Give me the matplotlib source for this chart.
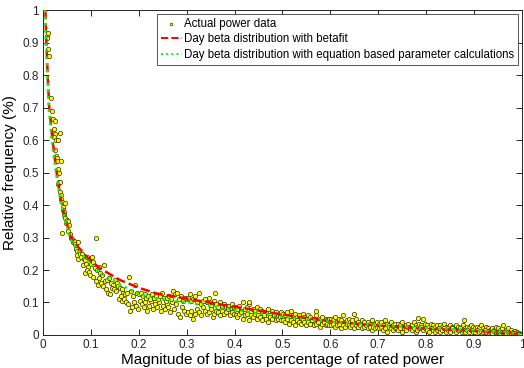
import matplotlib
matplotlib.use("Agg")
import matplotlib.pyplot as plt
import numpy as np

plt.rcParams['font.family'] = ['Liberation Sans', 'DejaVu Sans']

# ---- scatter: steep part + knee (x, y) ----
head_x = [0.008,0.010,0.009,0.011,0.012,0.016,0.019,0.021,0.026,0.022,0.025,0.036,0.024,0.028,
          0.031,0.026,0.028,0.030,0.029,0.037,0.031,0.033,0.034,0.031,0.036,0.035,0.037,0.038,0.040,0.046,0.042,0.041,0.044,0.043,
          0.047,0.050,0.048,0.052,0.055,0.040,0.053,0.056,0.058,0.060,0.062,0.064,0.066,0.070,0.074,0.068,0.072,0.076,0.071,0.078,
          0.082,0.074,0.080,0.085,0.088,0.092,0.096,0.102,0.084,0.090,0.095,0.100,0.104,0.110,0.088,0.092,0.097,0.099,0.105,0.108,
          0.112,0.116,0.128,0.120,0.124,0.118,0.110,0.114,0.122,0.126,0.130,0.134,0.138,0.142,0.146,0.150,0.154,0.132,0.136,0.140,
          0.144,0.148,0.152,0.156,0.160,0.164,0.168,0.172,0.176,0.180,0.184,0.188,0.192,0.196,0.200,0.158,0.162,0.166,0.170,0.174,
          0.178,0.182,0.186,0.190,0.194,0.198,0.202,0.206,0.210,0.214,0.218,0.222,0.226,0.230,0.234,0.238,0.242,0.246,0.250,0.254,
          0.258,0.262,0.266,0.270,0.274,0.278,0.282,0.286,0.290,0.294,0.298,0.204,0.208,0.212,0.216,0.220,0.224,0.228,0.232,0.236,
          0.240,0.244,0.248,0.252,0.256,0.260,0.264,0.268,0.272,0.276,0.280,0.284,0.288,0.292,0.296,0.300]
head_y = [0.92,0.93,0.915,0.88,0.86,0.73,0.69,0.665,0.66,0.635,0.62,0.622,0.61,0.60,
          0.60,0.57,0.55,0.545,0.535,0.535,0.51,0.50,0.47,0.465,0.47,0.44,0.43,0.42,0.41,0.405,0.395,0.385,0.38,0.37,
          0.36,0.355,0.345,0.35,0.34,0.315,0.32,0.31,0.30,0.295,0.285,0.29,0.28,0.275,0.285,0.265,0.26,0.255,0.245,0.25,
          0.25,0.235,0.24,0.235,0.23,0.24,0.235,0.24,0.215,0.22,0.21,0.22,0.225,0.30,0.19,0.20,0.195,0.185,0.18,0.205,
          0.20,0.21,0.215,0.19,0.185,0.175,0.165,0.155,0.16,0.15,0.165,0.17,0.175,0.16,0.155,0.17,0.16,0.14,0.13,0.125,
          0.145,0.14,0.135,0.15,0.145,0.14,0.13,0.125,0.13,0.18,0.135,0.12,0.155,0.13,0.125,0.11,0.12,0.105,0.11,0.10,
          0.095,0.075,0.085,0.10,0.09,0.08,0.105,0.095,0.085,0.10,0.075,0.09,0.105,0.08,0.095,0.085,0.10,0.075,0.09,0.08,
          0.095,0.085,0.07,0.10,0.08,0.095,0.065,0.055,0.085,0.075,0.065,0.13,0.12,0.125,0.115,0.12,0.11,0.125,0.115,0.12,
          0.11,0.12,0.13,0.115,0.105,0.115,0.12,0.11,0.135,0.125,0.13,0.11,0.12,0.105,0.115,0.11]

# ---- scatter: tail (two bands per bin) ----
tail_x = [0.302,0.306,0.310,0.314,0.318,0.322,0.326,0.330,0.334,0.338,0.342,0.346,0.350,0.354,0.358,0.362,0.366,0.370,0.374,0.378,0.382,0.386,0.390,0.394,0.398,
          0.402,0.406,0.410,0.414,0.418,0.422,0.426,0.430,0.434,0.438,0.442,0.446,0.450,0.454,0.458,0.462,0.466,0.470,0.474,0.478,0.482,0.486,0.490,0.494,0.498,
          0.502,0.506,0.510,0.514,0.518,0.522,0.526,0.530,0.534,0.538,0.542,0.546,0.550,0.554,0.558,0.562,0.566,0.570,0.574,0.578,0.582,0.586,0.590,0.594,0.598,
          0.602,0.606,0.610,0.614,0.618,0.622,0.626,0.630,0.634,0.638,0.642,0.646,0.650,0.654,0.658,0.662,0.666,0.670,0.674,0.678,0.682,0.686,0.690,0.694,0.698,
          0.702,0.706,0.710,0.714,0.718,0.722,0.726,0.730,0.734,0.738,0.742,0.746,0.750,0.754,0.758,0.762,0.766,0.770,0.774,0.778,0.782,0.786,0.790,0.794,0.798,
          0.802,0.806,0.810,0.814,0.818,0.822,0.826,0.830,0.834,0.838,0.842,0.846,0.850,0.854,0.858,0.862,0.866,0.870,0.874,0.878,0.882,0.886,0.890,0.894,0.898,
          0.902,0.906,0.910,0.914,0.918,0.922,0.926,0.930,0.934,0.938,0.942,0.946,0.950,0.954,0.958,0.962,0.966,0.970,0.974,0.978,0.982,0.986,0.990,0.994,0.998]
tail_y_upper = [0.115,0.125,0.105,0.11,0.12,0.10,0.13,0.095,0.105,0.11,0.10,0.115,0.09,0.10,0.105,0.095,0.085,0.10,0.09,0.095,0.085,0.09,0.08,0.095,0.085,
                0.085,0.08,0.09,0.075,0.10,0.08,0.085,0.095,0.07,0.08,0.075,0.085,0.07,0.08,0.075,0.065,0.07,0.08,0.06,0.075,0.065,0.07,0.06,0.065,0.07,
                0.065,0.06,0.07,0.055,0.075,0.06,0.065,0.055,0.06,0.05,0.065,0.055,0.05,0.06,0.055,0.045,0.05,0.06,0.045,0.05,0.055,0.04,0.05,0.045,0.05,
                0.05,0.045,0.055,0.04,0.05,0.045,0.06,0.04,0.045,0.05,0.04,0.045,0.035,0.05,0.04,0.035,0.045,0.04,0.03,0.04,0.035,0.045,0.03,0.035,0.04,
                0.035,0.04,0.03,0.045,0.035,0.03,0.04,0.03,0.035,0.025,0.035,0.03,0.04,0.025,0.03,0.035,0.025,0.03,0.04,0.03,0.025,0.035,0.03,0.05,0.035,
                0.03,0.025,0.035,0.03,0.025,0.03,0.02,0.03,0.025,0.035,0.025,0.02,0.03,0.025,0.02,0.03,0.025,0.02,0.025,0.03,0.02,0.025,0.02,0.03,0.025,
                0.02,0.025,0.02,0.03,0.02,0.015,0.025,0.02,0.015,0.02,0.015,0.025,0.02,0.015,0.02,0.01,0.015,0.02,0.01,0.015,0.01,0.012,0.008,0.006,0.004]
tail_y_lower = [0.07,0.06,0.075,0.05,0.065,0.08,0.07,0.06,0.085,0.075,0.065,0.07,0.08,0.055,0.065,0.075,0.07,0.06,0.075,0.065,0.07,0.08,0.06,0.07,0.065,
                0.06,0.055,0.065,0.07,0.05,0.06,0.065,0.045,0.06,0.055,0.065,0.05,0.06,0.055,0.045,0.06,0.05,0.04,0.055,0.05,0.06,0.045,0.05,0.055,0.045,
                0.045,0.04,0.05,0.035,0.045,0.04,0.03,0.045,0.04,0.035,0.045,0.04,0.03,0.04,0.035,0.045,0.03,0.035,0.04,0.025,0.035,0.04,0.03,0.035,0.03,
                0.03,0.035,0.025,0.03,0.035,0.02,0.03,0.025,0.035,0.03,0.025,0.03,0.02,0.03,0.025,0.03,0.02,0.025,0.03,0.02,0.025,0.015,0.025,0.02,0.025,
                0.02,0.025,0.015,0.02,0.01,0.025,0.02,0.015,0.02,0.025,0.015,0.02,0.01,0.02,0.015,0.025,0.02,0.015,0.02,0.01,0.015,0.02,0.025,0.015,0.02,
                0.015,0.01,0.02,0.015,0.01,0.015,0.02,0.01,0.015,0.02,0.01,0.015,0.01,0.02,0.015,0.01,0.015,0.02,0.01,0.015,0.01,0.015,0.01,0.015,0.01,
                0.01,0.015,0.008,0.012,0.01,0.015,0.008,0.012,0.01,0.006,0.012,0.008,0.01,0.006,0.01,0.008,0.005,0.008,0.006,0.005,0.004,0.006,0.003,0.002,0.001]
outlier_x = [0.43, 0.57, 0.783, 0.88, 0.96, 0.36, 0.65]
outlier_y = [0.10, 0.075, 0.052, 0.045, 0.03, 0.13, 0.065]

# ---- fitted curves ----
red_x = [0.005,0.007,0.0098,0.013,0.02,0.0285,0.039,0.058,0.074,0.095,0.119,0.161,0.2025,0.237,0.3,0.35,0.4,0.45,0.5,0.55,
         0.6,0.65,0.7,0.75,0.8,0.85,0.9,0.95,0.98,0.999]
red_y = [1.0,0.9,0.8,0.7,0.6,0.5,0.4,0.3,0.27,0.235,0.205,0.169,0.144,0.128,0.112,0.099,0.087,0.075,0.063,0.052,
         0.042,0.035,0.029,0.024,0.02,0.016,0.013,0.008,0.005,0.0]
green_x = [0.004,0.006,0.0088,0.012,0.018,0.027,0.038,0.057,0.074,0.095,0.119,0.161,0.2025,0.237,0.3,0.35,0.4,0.45,0.5,0.55,
           0.6,0.65,0.7,0.75,0.8,0.85,0.9,0.95,0.98,0.999]
green_y = [1.0,0.9,0.8,0.7,0.6,0.5,0.4,0.295,0.26,0.225,0.19,0.155,0.125,0.113,0.1,0.088,0.077,0.066,0.056,0.048,
           0.041,0.035,0.03,0.026,0.022,0.018,0.015,0.01,0.006,0.0]

labels = ["Actual power data", "Day beta distribution with betafit",
          "Day beta distribution with equation based parameter calculations"]

fig = plt.figure(figsize=(5.24, 3.68), dpi=100)
ax = fig.add_axes([0.082, 0.0897, 0.914, 0.883])

sx = head_x + tail_x + tail_x + outlier_x
sy = head_y + tail_y_upper + tail_y_lower + outlier_y
ax.scatter(sx, sy, s=10, c='#ffff00', edgecolors='#333300', linewidths=0.5, zorder=2, label=labels[0])
ax.plot(red_x, red_y, '--', color='#ff0000', lw=1.8, zorder=3, label=labels[1])
ax.plot(green_x, green_y, ':', color='#00ff00', lw=1.8, zorder=4, label=labels[2])

ax.set_xlim(0, 1)
ax.set_ylim(0, 1)
ax.set_xticks(np.arange(0, 1.01, 0.1))
ax.set_yticks(np.arange(0, 1.01, 0.1))
ax.set_xticklabels(['0', '0.1', '0.2', '0.3', '0.4', '0.5', '0.6', '0.7', '0.8', '0.9', '1'])
ax.set_yticklabels(['0', '0.1', '0.2', '0.3', '0.4', '0.5', '0.6', '0.7', '0.8', '0.9', '1'])
ax.tick_params(direction='in', top=True, right=True, length=4, width=0.7, labelsize=8.5, pad=3, colors='#262626')
for sp in ax.spines.values():
    sp.set_color('#262626')
    sp.set_linewidth(0.7)

ax.set_xlabel("Magnitude of bias as percentage of rated power", fontsize=11, labelpad=1)
ax.set_ylabel("Relative frequency (%)", fontsize=11, labelpad=4)

leg = ax.legend(loc='upper right', fontsize=8.3, frameon=True, fancybox=False, edgecolor='#555555',
                framealpha=1, borderpad=0.35, labelspacing=0.3, handlelength=1.8, handletextpad=0.15,
                markerscale=0.6, bbox_to_anchor=(0.996, 0.995), borderaxespad=0.2)
leg.get_frame().set_linewidth(0.7)
for h in leg.legend_handles[1:]:
    h.set_linewidth(1.4)

fig.savefig("out.png", dpi=100)
